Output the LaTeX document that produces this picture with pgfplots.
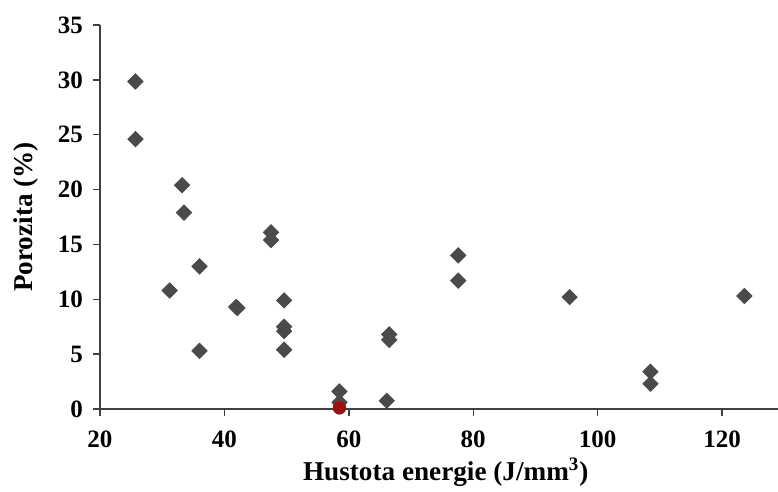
\documentclass[border=0pt]{standalone}
\usepackage{fontspec}
\setmainfont{Liberation Serif}
\usepackage{pgfplots}
\pgfplotsset{compat=1.18}
\definecolor{mk}{HTML}{4A4A4A}
\definecolor{ax}{HTML}{404040}
\definecolor{rd}{HTML}{9B1111}

\begin{document}
\begin{tikzpicture}
\begin{axis}[
  scale only axis,
  width=339pt, height=192pt,
  xmin=20, xmax=129, ymin=0, ymax=35,
  axis lines*=left,
  axis line style={ax, line width=0.7pt},
  xtick={20,40,...,120}, ytick={0,5,...,35},
  tick align=outside, major tick length=3.5pt,
  tick style={ax, line width=0.7pt},
  /pgf/number format/assume math mode=true,
  ticklabel style={font=\fontsize{12.5}{14}\selectfont\bfseries},
  xticklabel style={yshift=-4pt},
  yticklabel style={xshift=-1.5pt},
  label style={font=\fontsize{13.6}{16}\selectfont\bfseries},
  xlabel={Hustota energie (J/mm\textsuperscript{3})},
  ylabel={Porozita (\%)},
  xlabel style={at={(axis description cs:0.51,-0.1875)}, anchor=base},
  ylabel style={at={(axis description cs:-0.1,0.5)}, anchor=base},
  clip=false,
]
% porozita vs. hustota energie
\addplot[only marks, mark=square*, mark size=2.7pt,
  mark options={rotate=45, fill=mk, draw=mk}] coordinates {
(25.7,29.85)
(25.7,24.6)
(33.2,20.4)
(33.5,17.9)
(47.5,16.1)
(47.5,15.4)
(36.0,13.0)
(31.2,10.8)
(41.9,9.3)
(42.1,9.2)
(49.6,9.9)
(49.6,7.5)
(49.6,7.1)
(49.6,5.4)
(36.0,5.3)
(58.5,1.6)
(58.5,0.6)
(66.1,0.75)
(66.5,6.8)
(66.5,6.3)
(77.6,14.0)
(77.6,11.7)
(95.5,10.2)
(123.6,10.3)
(108.5,3.4)
(108.5,2.3)
};
% cerveny bod
\addplot[only marks, mark=*, mark size=3.15pt,
  mark options={fill=rd, draw=rd}] coordinates {(58.5,0.1)};
\coordinate (bl) at (rel axis cs:0,0);
\coordinate (tr) at (rel axis cs:1,1);
\end{axis}
\pgfresetboundingbox
\path ([shift={(-50pt,-41.5pt)}]bl) rectangle ([shift={(0pt,12.5pt)}]tr);
\end{tikzpicture}
\end{document}
